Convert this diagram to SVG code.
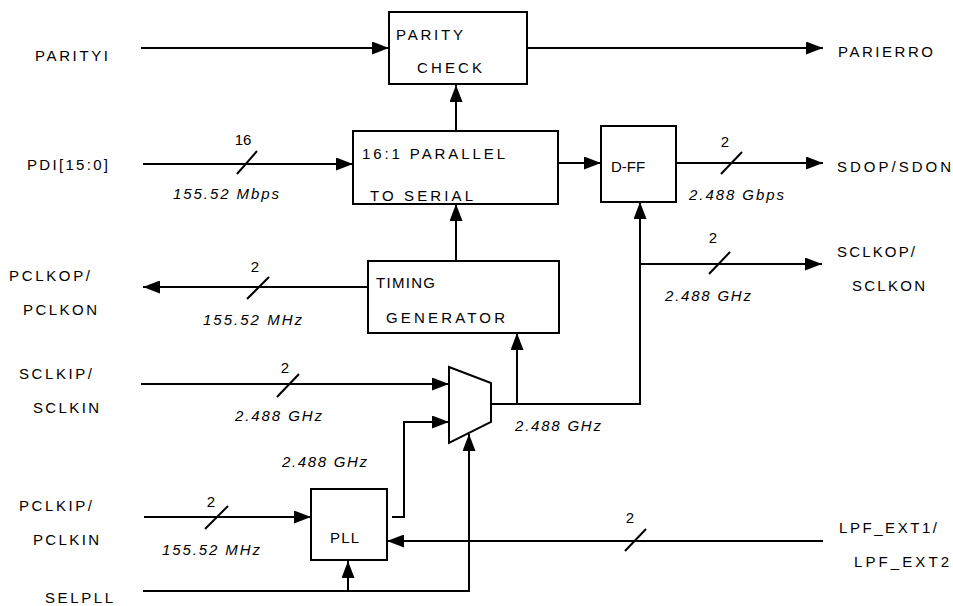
<svg xmlns="http://www.w3.org/2000/svg" width="953" height="606" viewBox="0 0 953 606">
<defs>
<style>
.box{fill:#fff;stroke:#000;stroke-width:2}
.ln{fill:none;stroke:#000;stroke-width:2}
.arr{marker-end:url(#ah)}
.sl{stroke:#000;stroke-width:2}
text{font-family:"Liberation Sans",Arial,sans-serif;font-size:15px;fill:#000}
.it{font-style:italic}
.c{text-anchor:middle}
</style>
<marker id="ah" markerUnits="userSpaceOnUse" markerWidth="17" markerHeight="13" viewBox="0 0 17 13" refX="17" refY="6.5" orient="auto">
<path d="M0,0 L17,6.5 L0,13 z" fill="#000"/>
</marker>
</defs>
<rect width="953" height="606" fill="#fff"/>

<g id="connectors">
<path class="ln arr" d="M141,48 H389"/>
<path class="ln arr" d="M527,48 H823"/>
<path class="ln arr" d="M143,164 H353"/>
<path class="ln arr" d="M456,131 V85"/>
<path class="ln arr" d="M558,163 H601"/>
<path class="ln arr" d="M676,163 H823"/>
<path class="ln arr" d="M456,261 V204"/>
<path class="ln arr" d="M368,287 H143"/>
<path class="ln arr" d="M141,384 H449"/>
<path class="ln arr" d="M392,517 H404 V422 H449"/>
<path class="ln arr" d="M491,404 H640 V202"/>
<path class="ln arr" d="M517,404 V333"/>
<path class="ln arr" d="M640,264 H822"/>
<path class="ln arr" d="M144,517 H311"/>
<path class="ln arr" d="M823,541 H387"/>
<path class="ln arr" d="M143,591 H469 V434"/>
<path class="ln arr" d="M348,591 V561"/>
<line class="sl" x1="237" y1="174" x2="257" y2="151"/>
<line class="sl" x1="247" y1="299" x2="269" y2="277"/>
<line class="sl" x1="277" y1="397" x2="299" y2="374"/>
<line class="sl" x1="205" y1="529" x2="228" y2="506"/>
<line class="sl" x1="721" y1="174" x2="742" y2="152"/>
<line class="sl" x1="709" y1="274" x2="730" y2="252"/>
<line class="sl" x1="625" y1="551" x2="646" y2="529"/>
</g>

<g id="parity-check">
<rect class="box" x="389" y="12" width="138" height="72"/>
<text x="396" y="40" textLength="67" lengthAdjust="spacing">PARITY</text>
<text x="417" y="73" textLength="65" lengthAdjust="spacing">CHECK</text>
</g>
<g id="p2s">
<rect class="box" x="353" y="131" width="205" height="73"/>
<text x="362" y="159" textLength="143" lengthAdjust="spacing">16:1 PARALLEL</text>
<text x="370" y="201" textLength="103" lengthAdjust="spacing">TO SERIAL</text>
</g>
<g id="dff">
<rect class="box" x="601" y="126" width="75" height="76"/>
<text x="611" y="172">D-FF</text>
</g>
<g id="timing">
<rect class="box" x="368" y="261" width="191" height="72"/>
<text x="376" y="288" textLength="59" lengthAdjust="spacing">TIMING</text>
<text x="386" y="323" textLength="119" lengthAdjust="spacing">GENERATOR</text>
</g>
<g id="mux">
<polygon class="box" points="449,367 491,383 491,422 449,443"/>
</g>
<g id="pll">
<rect class="box" x="311" y="489" width="76" height="71"/>
<text x="330" y="543" textLength="29" lengthAdjust="spacing">PLL</text>
</g>

<g id="labels">
<text x="35" y="61" textLength="73" lengthAdjust="spacing">PARITYI</text>
<text x="838" y="57" textLength="95" lengthAdjust="spacing">PARIERRO</text>
<text x="27" y="170" textLength="81" lengthAdjust="spacing">PDI[15:0]</text>
<text class="c" x="243" y="145">16</text>
<text class="it" x="173" y="199" textLength="106" lengthAdjust="spacing">155.52 Mbps</text>
<text class="c" x="725" y="147">2</text>
<text class="it" x="689" y="200" textLength="95" lengthAdjust="spacing">2.488 Gbps</text>
<text x="837" y="172" textLength="114" lengthAdjust="spacing">SDOP/SDON</text>
<text x="9" y="281" textLength="81" lengthAdjust="spacing">PCLKOP/</text>
<text x="23" y="315" textLength="74" lengthAdjust="spacing">PCLKON</text>
<text class="c" x="255" y="272">2</text>
<text class="it" x="203" y="325" textLength="99" lengthAdjust="spacing">155.52 MHz</text>
<text class="c" x="713" y="243">2</text>
<text class="it" x="665" y="301" textLength="86" lengthAdjust="spacing">2.488 GHz</text>
<text x="837" y="257" textLength="78" lengthAdjust="spacing">SCLKOP/</text>
<text x="852" y="291" textLength="73" lengthAdjust="spacing">SCLKON</text>
<text x="19" y="379" textLength="73" lengthAdjust="spacing">SCLKIP/</text>
<text x="33" y="413" textLength="66" lengthAdjust="spacing">SCLKIN</text>
<text class="c" x="285" y="373">2</text>
<text class="it" x="235" y="421" textLength="87" lengthAdjust="spacing">2.488 GHz</text>
<text class="it" x="515" y="431" textLength="86" lengthAdjust="spacing">2.488 GHz</text>
<text class="it" x="282" y="467" textLength="85" lengthAdjust="spacing">2.488 GHz</text>
<text x="19" y="511" textLength="73" lengthAdjust="spacing">PCLKIP/</text>
<text x="33" y="545" textLength="66" lengthAdjust="spacing">PCLKIN</text>
<text class="c" x="211" y="507">2</text>
<text class="it" x="162" y="555" textLength="98" lengthAdjust="spacing">155.52 MHz</text>
<text class="c" x="630" y="523">2</text>
<text x="839" y="533" textLength="98" lengthAdjust="spacing">LPF_EXT1/</text>
<text x="854" y="567" textLength="95" lengthAdjust="spacing">LPF_EXT2</text>
<text x="45" y="603" textLength="68" lengthAdjust="spacing">SELPLL</text>
</g>
</svg>
